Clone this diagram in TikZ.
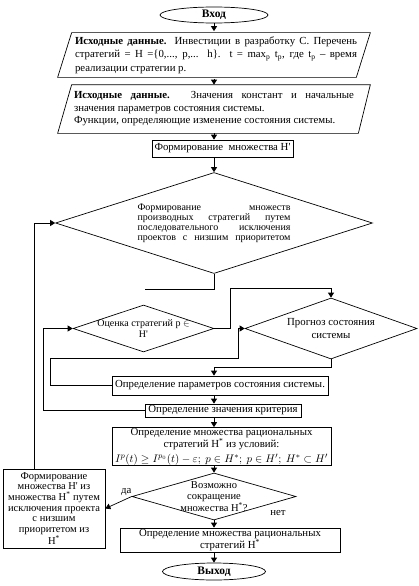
\documentclass[tikz,border=0pt]{standalone}
\usepackage{fontspec}
\setmainfont{Liberation Serif}
\usepackage{amsmath}
\usepackage{amssymb}
\usetikzlibrary{arrows.meta,shapes.geometric}
\newcommand{\Hp}{H\textquotesingle}
\newcommand{\Hs}{H\textsuperscript{*}}

\begin{document}
\begin{tikzpicture}[
    x=1pt, y=-1pt, line width=0.7pt,
    font=\fontsize{10.8}{13}\selectfont,
    term/.style={draw, ellipse, font=\fontsize{11.5}{13}\selectfont\bfseries,
                 minimum height=16pt, inner sep=0pt},
    dat/.style={minimum width=312pt, inner sep=1pt, align=justify},
    box/.style={draw, align=center, inner sep=0.5pt},
    cond/.style={draw, diamond, inner sep=0pt},
    ctext/.style={align=center, inner sep=0pt, font=\fontsize{10}{11}\selectfont},
    arr/.style={-{Triangle[length=5pt,width=6pt]}}
]
\useasboundingbox (0,0) rectangle (419,586);
\node[term, minimum width=108pt] (start) at (214,15) {Вход};
\node[dat, minimum height=47pt, text width=282pt, font=\fontsize{10.8}{13.5}\selectfont] (in1) at (216,55)
    {\textbf{Исходные данные.} Инвестиции в разработку С. Перечень\linebreak
     стратегий = H =\{0,..., p,... h\}. t = max\textsubscript{p} t\textsubscript{p}, где t\textsubscript{p} -- время\linebreak
     реализации стратегии p.};
\draw ([xshift=12pt,yshift=-1.5pt]in1.north west) -- ([xshift=-2pt,yshift=-1.5pt]in1.north east)
    -- ([xshift=-16pt,yshift=1.5pt]in1.south east) -- ([xshift=-2pt,yshift=1.5pt]in1.south west) -- cycle;
\node[dat, minimum height=48pt, text width=280pt, font=\fontsize{10.8}{12.5}\selectfont] (in2) at (214,109)
    {\textbf{Исходные данные.} Значения констант и начальные\linebreak
     значения параметров состояния системы.\\
     Функции, определяющие изменение состояния системы.};
\draw ([xshift=14pt]in2.north west) -- (in2.north east) -- ([xshift=-12pt]in2.south east) -- (in2.south west) -- cycle;
\node[box, minimum width=141pt, minimum height=17pt] (hset) at (222.5,148.5) {Формирование\enspace множества \Hp};
\node[cond, minimum width=317pt, minimum height=101pt,
      label={[ctext, text width=153pt, align=left, font=\fontsize{10}{10}\selectfont]center:Формирование\hfill множеств\\
      производных\hfill стратегий\hfill путем\\
      последовательного\hfill исключения\\
      проектов\hfill с\hfill низшим\hfill приоритетом}] (hsub) at (214,223) {};
\coordinate (cut) at (145,289);
\node[cond, minimum width=141pt, minimum height=47pt,
      label={[ctext]center:Оценка стратегий p $\in$\\\Hp}] (eval) at (143.5,328.5) {};
\node[cond, minimum width=172pt, minimum height=61pt,
      label={[ctext, font=\fontsize{10.8}{13}\selectfont]center:Прогноз состояния\\системы}] (fore) at (331,328.5) {};
\node[box, minimum width=216pt, minimum height=19pt] (spar) at (220,385.5) {Определение параметров состояния системы.};
\node[box, minimum width=156pt, minimum height=13pt] (crit) at (223,410.5) {Определение значения критерия};
\node[box, minimum width=219pt, minimum height=38pt, font=\fontsize{10.8}{12}\selectfont] (rset) at (221.5,446.5)
    {Определение множества рациональных\\стратегий \Hs{} из условий:\\[3pt]
     $I^{p}(t) \geq I^{p_0}(t) - \varepsilon;\ p \in H^{*};\ p \in H';\ H^{*} \subset H'$};
\node[cond, minimum width=164pt, minimum height=47pt,
      label={[ctext, font=\fontsize{10.5}{10.5}\selectfont]center:Возможно\\сокращение\\множества \Hs?}] (red) at (214,496.5) {};
\node[box, minimum width=102pt, minimum height=79pt, font=\fontsize{10.5}{10.7}\selectfont] (prune) at (54,508.5)
    {Формирование\\множества \Hp{} из\\множества \Hs{} путем\\исключения проекта\\с низшим\\приоритетом из\\\Hs};
\node[box, minimum width=220pt, minimum height=24pt, font=\fontsize{10.8}{11.5}\selectfont] (outset) at (230,540)
    {Определение множества рациональных\\стратегий \Hs};
\node[term, minimum width=103pt, minimum height=17pt] (stop) at (214,571.5) {Выход};

\draw[arr] (start) -- (in1.north -| start.south);
\draw[arr] (in1.south -| start.south) -- (in2);
\draw[arr] (in2.south) -- (hset.north -| in2.south);
\draw[arr] (hset.south -| hsub.north) -- (hsub.north);
\draw (hsub.south) |- (cut);
\draw[arr] (eval.east) -- ++(16,0) |- ([yshift=9pt]fore.north) -- (fore.north);
\draw[arr] (fore.south) -- ++(0,8) -| (spar.north -| hsub.south);
\draw[arr] (spar.west) -| (50,358) -| (238,328.5) -- (fore.west);
\draw[arr] (spar.south -| hsub.south) -- (crit.north -| hsub.south);
\draw[arr] (crit.west) -| (43,328.5) -- (eval.west);
\draw[arr] (crit.south -| hsub.south) -- (rset.north -| hsub.south);
\draw[arr] (rset.south -| red.north) -- (red.north);
\draw[arr] (red.west) -- node[above, pos=0.2] (yes) {да} (prune.east);
\draw[arr] ([xshift=-20pt]prune.north) |- (hsub.west);
\draw[arr] (red.south) -- node[at start, xshift=64pt, yshift=7pt] (no) {нет} (outset.north -| red.south);
\draw[arr] (outset.south -| stop.north) -- (stop.north);
\end{tikzpicture}
\end{document}
